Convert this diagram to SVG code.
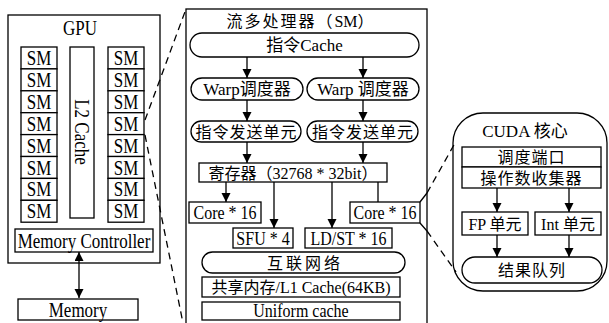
<svg xmlns="http://www.w3.org/2000/svg" width="609" height="323" viewBox="0 0 609 323">
<style>
.b{fill:#fff;stroke:#000;stroke-width:1.3}
.n{fill:none;stroke:#000;stroke-width:1.3}
.d{fill:none;stroke:#000;stroke-width:1.3;stroke-dasharray:7 5}
.t{font-family:"Liberation Serif","Noto Sans CJK SC",serif;font-size:17px;fill:#000;text-anchor:middle}
.s{font-size:16px}
.a{fill:none;stroke:#000;stroke-width:1.3;marker-end:url(#ah)}
</style>
<defs>
<marker id="ah" markerUnits="userSpaceOnUse" markerWidth="10" markerHeight="10" refX="9" refY="4.5" orient="auto-start-reverse">
<path d="M0,0 L9,4.5 L0,9 z" fill="#000"/>
</marker>
</defs>
<rect width="609" height="323" fill="#fff"/>

<g id="gpu">
<rect class="b" x="8" y="15" width="152" height="248"/>
<text class="t" transform="translate(80,34.5) scale(1,1.2)">GPU</text>
</g>
<g id="sm-left">
<rect class="b" x="21" y="47" width="36" height="21.9"/><text class="t" transform="translate(39,65) scale(1,1.2)">SM</text>
<rect class="b" x="21" y="68.9" width="36" height="21.9"/><text class="t" transform="translate(39,86.9) scale(1,1.2)">SM</text>
<rect class="b" x="21" y="90.8" width="36" height="21.9"/><text class="t" transform="translate(39,108.8) scale(1,1.2)">SM</text>
<rect class="b" x="21" y="112.7" width="36" height="21.9"/><text class="t" transform="translate(39,130.7) scale(1,1.2)">SM</text>
<rect class="b" x="21" y="134.6" width="36" height="21.9"/><text class="t" transform="translate(39,152.6) scale(1,1.2)">SM</text>
<rect class="b" x="21" y="156.5" width="36" height="21.9"/><text class="t" transform="translate(39,174.5) scale(1,1.2)">SM</text>
<rect class="b" x="21" y="178.4" width="36" height="21.9"/><text class="t" transform="translate(39,196.4) scale(1,1.2)">SM</text>
<rect class="b" x="21" y="200.3" width="36" height="21.9"/><text class="t" transform="translate(39,218.3) scale(1,1.2)">SM</text>
</g>
<g id="sm-right">
<rect class="b" x="108" y="47" width="36" height="21.9"/><text class="t" transform="translate(126,65) scale(1,1.2)">SM</text>
<rect class="b" x="108" y="68.9" width="36" height="21.9"/><text class="t" transform="translate(126,86.9) scale(1,1.2)">SM</text>
<rect class="b" x="108" y="90.8" width="36" height="21.9"/><text class="t" transform="translate(126,108.8) scale(1,1.2)">SM</text>
<rect class="b" x="108" y="112.7" width="36" height="21.9"/><text class="t" transform="translate(126,130.7) scale(1,1.2)">SM</text>
<rect class="b" x="108" y="134.6" width="36" height="21.9"/><text class="t" transform="translate(126,152.6) scale(1,1.2)">SM</text>
<rect class="b" x="108" y="156.5" width="36" height="21.9"/><text class="t" transform="translate(126,174.5) scale(1,1.2)">SM</text>
<rect class="b" x="108" y="178.4" width="36" height="21.9"/><text class="t" transform="translate(126,196.4) scale(1,1.2)">SM</text>
<rect class="b" x="108" y="200.3" width="36" height="21.9"/><text class="t" transform="translate(126,218.3) scale(1,1.2)">SM</text>
</g>
<g id="l2">
<rect class="b" x="70" y="47" width="24" height="171"/>
<text class="t" transform="translate(75,132) rotate(90) scale(1,1.2)">L2 Cache</text>
</g>
<g id="memctrl">
<rect class="b" x="15" y="229" width="138" height="23"/>
<text class="t" transform="translate(84,247.5) scale(1,1.2)">Memory Controller</text>
</g>
<g id="memory">
<rect class="b" x="18" y="299" width="120" height="21"/>
<text class="t" transform="translate(78,316.5) scale(1,1.2)">Memory</text>
</g>

<g id="sm-detail">
<rect class="n" x="186" y="9" width="241" height="330"/>
<text class="t s" x="300" y="27"><tspan letter-spacing="2">流多处理器（</tspan>SM）</text>
</g>
<g id="icache"><rect class="b" x="190" y="33" width="229" height="24" rx="12"/><text class="t" x="304.5" y="51">指令Cache</text></g>
<g id="warp1"><rect class="b" x="191" y="78" width="112" height="22" rx="11"/><text class="t" x="247" y="95">Warp调度器</text></g>
<g id="warp2"><rect class="b" x="307" y="78" width="112" height="22" rx="11"/><text class="t" x="363" y="95">Warp 调度器</text></g>
<g id="dispatch1"><rect class="b" x="191" y="121" width="110" height="21" rx="10.5"/><text class="t s" x="246.5" y="137.5" letter-spacing="1">指令发送单元</text></g>
<g id="dispatch2"><rect class="b" x="307" y="121" width="111" height="21" rx="10.5"/><text class="t s" x="363" y="137.5" letter-spacing="1">指令发送单元</text></g>
<g id="regs"><rect class="b" x="199" y="163" width="188" height="19"/><text class="t s" x="293" y="178.5">寄存器（32768 * 32bit）</text></g>
<g id="core1"><rect class="b" x="189" y="202" width="72" height="21"/><text class="t s" transform="translate(225,219) scale(1,1.12)">Core * 16</text></g>
<g id="sfu"><rect class="b" x="233" y="228" width="60" height="20"/><text class="t s" transform="translate(263,244.5) scale(1,1.12)">SFU * 4</text></g>
<g id="ldst"><rect class="b" x="305" y="228" width="87" height="20"/><text class="t s" transform="translate(348.5,244.5) scale(1,1.12)">LD/ST * 16</text></g>
<g id="core2"><rect class="b" x="350" y="202" width="70" height="21"/><text class="t s" transform="translate(385,219) scale(1,1.12)">Core * 16</text></g>
<g id="interconnect"><rect class="b" x="202" y="252" width="203" height="21" rx="10.5"/><text class="t s" x="305" y="268.5" letter-spacing="3">互联网络</text></g>
<g id="shmem"><rect class="b" x="202" y="277" width="198" height="20"/><text class="t s" x="301" y="293">共享内存/L1 Cache(64KB)</text></g>
<g id="ucache"><rect class="b" x="202" y="302" width="198" height="18"/><text class="t s" transform="translate(301,316.5) scale(1,1.12)">Uniform cache</text></g>

<g id="cuda">
<rect class="n" x="453" y="113" width="154" height="178" rx="30"/>
<text class="t" x="525" y="137">CUDA 核心</text>
</g>
<g id="sched-port"><rect class="b" x="462" y="147" width="139" height="20"/><text class="t s" x="531.5" y="163" letter-spacing="1">调度端口</text></g>
<g id="operand"><rect class="b" x="462" y="167" width="139" height="21"/><text class="t s" x="531.5" y="183.5" letter-spacing="1">操作数收集器</text></g>
<g id="fp"><rect class="b" x="462" y="212" width="66" height="23"/><text class="t s" x="495" y="229.5">FP 单元</text></g>
<g id="int"><rect class="b" x="535" y="212" width="66" height="23"/><text class="t s" x="568" y="229.5">Int 单元</text></g>
<g id="result"><rect class="b" x="462" y="257" width="140" height="26" rx="13"/><text class="t s" x="532" y="276" letter-spacing="1">结果队列</text></g>

<g id="connectors">
<line class="a" x1="79" y1="252" x2="79" y2="298" style="marker-start:url(#ah)"/>
<line class="d" x1="145" y1="120" x2="186" y2="9"/>
<line class="d" x1="145" y1="135" x2="183" y2="323"/>
<line class="a" x1="247" y1="57" x2="247" y2="78"/>
<line class="a" x1="363" y1="57" x2="363" y2="78"/>
<line class="a" x1="247" y1="100" x2="247" y2="121"/>
<line class="a" x1="363" y1="100" x2="363" y2="121"/>
<line class="a" x1="247" y1="142" x2="247" y2="163"/>
<line class="a" x1="363" y1="142" x2="363" y2="163"/>
<line class="a" x1="226" y1="182" x2="226" y2="202"/>
<line class="a" x1="274" y1="182" x2="274" y2="228"/>
<line class="a" x1="332" y1="182" x2="332" y2="228"/>
<line class="n" x1="378" y1="182" x2="378" y2="202"/>
<path class="n" d="M420,202 L427,193 M420,223 L427,231"/>
<line class="d" x1="427" y1="193" x2="455" y2="143"/>
<line class="d" x1="427" y1="231" x2="456" y2="272"/>
<line class="a" x1="497" y1="188" x2="497" y2="212"/>
<line class="a" x1="569" y1="188" x2="569" y2="212"/>
<line class="a" x1="497" y1="235" x2="497" y2="257"/>
<line class="a" x1="569" y1="235" x2="569" y2="257"/>
</g>
</svg>
